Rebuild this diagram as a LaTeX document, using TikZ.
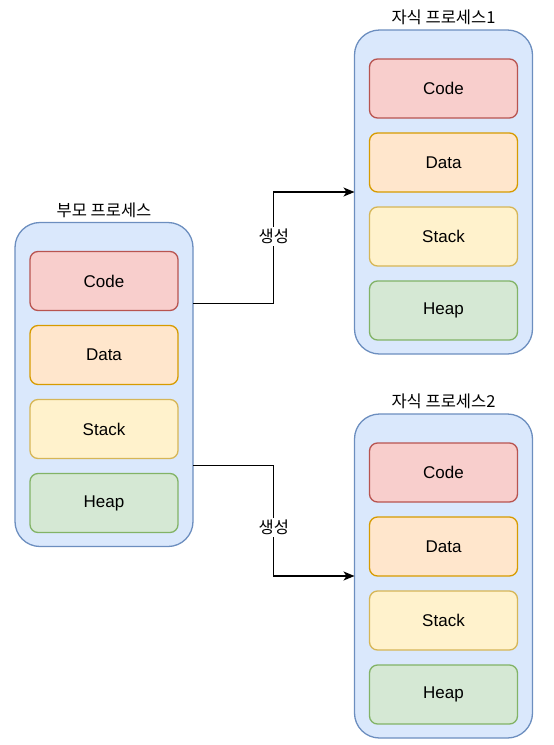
\documentclass[tikz,border=0pt]{standalone}
\usepackage{fontspec}
\setmainfont{Liberation Sans}
\newfontfamily\kor{Noto Sans CJK KR}
\usetikzlibrary{arrows.meta, calc, positioning}
\definecolor{procfill}{HTML}{DAE8FC}
\definecolor{procline}{HTML}{6C8EBF}
\definecolor{codefill}{HTML}{F8CECC}
\definecolor{codeline}{HTML}{B85450}
\definecolor{datafill}{HTML}{FFE6CC}
\definecolor{dataline}{HTML}{D79B00}
\definecolor{stackfill}{HTML}{FFF2CC}
\definecolor{stackline}{HTML}{D6B656}
\definecolor{heapfill}{HTML}{D5E8D4}
\definecolor{heapline}{HTML}{82B366}
\tikzset{
  proc/.style={
    draw=procline,
    fill=procfill,
    line width=1.3pt,
    rounded corners=25pt,
    minimum width=178pt,
    minimum height=324pt,
    outer sep=0pt
  },
  seg/.style={
    line width=1.3pt,
    rounded corners=8pt,
    minimum width=148pt,
    minimum height=59pt,
    outer sep=0pt,
    align=center,
    font=\fontsize{17}{20}\selectfont
  },
  code/.style={seg, draw=codeline, fill=codefill},
  data/.style={seg, draw=dataline, fill=datafill},
  stack/.style={seg, draw=stackline, fill=stackfill},
  heap/.style={seg, draw=heapline, fill=heapfill},
  title/.style={font=\kor\fontsize{16.5}{19}\selectfont, inner sep=2pt},
  arr/.style={-{Stealth[length=11pt,width=9pt,inset=3pt]}, line width=1.4pt, draw=black},
  lbl/.style={font=\kor\fontsize{16.5}{19}\selectfont, fill=white, inner sep=2pt}
}
\begin{document}
\begin{tikzpicture}[x=1pt, y=-1pt, node distance=15pt]
\useasboundingbox (0,0) rectangle (554,745);

% parent process
\node[proc] (parent) at (104,384.5) {};
\node[title, above=3pt of parent] {부모 프로세스};
\node[code, below=29pt of parent.north] (pcode) {Code};
\node[data, below=of pcode] (pdata) {Data};
\node[stack, below=of pdata] (pstack) {Stack};
\node[heap, below=of pstack] (pheap) {Heap};

% child process 1
\node[proc] (childa) at (443.5,192) {};
\node[title, above=3pt of childa] {자식 프로세스1};
\node[code, below=29pt of childa.north] (acode) {Code};
\node[data, below=of acode] (adata) {Data};
\node[stack, below=of adata] (astack) {Stack};
\node[heap, below=of astack] (aheap) {Heap};

% child process 2
\node[proc] (childb) at (443.5,576) {};
\node[title, above=3pt of childb] {자식 프로세스2};
\node[code, below=29pt of childb.north] (bcode) {Code};
\node[data, below=of bcode] (bdata) {Data};
\node[stack, below=of bdata] (bstack) {Stack};
\node[heap, below=of bstack] (bheap) {Heap};

% fork connectors
\coordinate (outa) at ($(parent.north east)!0.25!(parent.south east)$);
\coordinate (outb) at ($(parent.north east)!0.75!(parent.south east)$);
\coordinate (benda) at ($(outa)!0.5!(childa.west)$);
\coordinate (bendb) at ($(outb)!0.5!(childb.west)$);

\draw[arr] (outa) -- (benda |- outa)
  -- node[lbl, pos=0.6] {생성} (benda |- childa.west) -- (childa.west);
\draw[arr] (outb) -- (bendb |- outb)
  -- node[lbl, pos=0.56] {생성} (bendb |- childb.west) -- (childb.west);

\end{tikzpicture}
\end{document}
